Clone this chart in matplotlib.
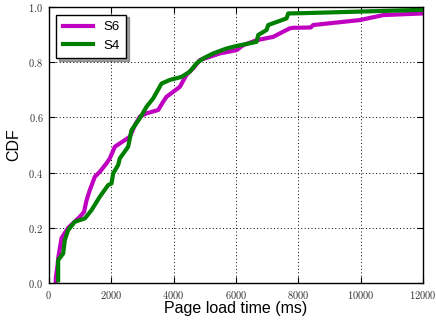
import numpy as np
import matplotlib
matplotlib.use("Agg")
import matplotlib.pyplot as plt
from matplotlib.ticker import FuncFormatter

# traced CDF points (page load time in ms, cumulative fraction)
s6_ms = [220, 225, 280, 300, 407, 620, 995, 1130, 1210, 1315, 1475, 1636, 1850,
         1957, 2118, 2439, 2599, 2760, 2920, 3134, 3508, 3668, 3775, 3989, 4203,
         4418, 4630, 4845, 5166, 5487, 6022, 6236, 6664, 7197, 7518, 7733, 7839,
         8400, 8480, 9979, 10726, 12000]
s6_cdf = [0.0, 0.02, 0.065, 0.09, 0.163, 0.2, 0.24, 0.258, 0.30, 0.337, 0.385,
          0.403, 0.434, 0.452, 0.494, 0.518, 0.530, 0.572, 0.603, 0.615, 0.627,
          0.657, 0.675, 0.693, 0.711, 0.755, 0.778, 0.808, 0.820, 0.832, 0.844,
          0.862, 0.880, 0.892, 0.911, 0.923, 0.925, 0.926, 0.935, 0.953, 0.971,
          0.977]

s4_ms = [299, 299, 460, 513, 620, 834, 1155, 1369, 1636, 1903, 2011, 2064, 2224,
         2278, 2545, 2652, 2920, 3134, 3347, 3615, 3882, 4257, 4524, 4737, 4951,
         5272, 5701, 6022, 6664, 6717, 6985, 7038, 7625, 7678, 8160, 12000]
s4_cdf = [0.01, 0.083, 0.107, 0.156, 0.192, 0.222, 0.234, 0.264, 0.313, 0.355,
          0.361, 0.397, 0.428, 0.452, 0.494, 0.554, 0.597, 0.639, 0.669, 0.723,
          0.736, 0.747, 0.766, 0.796, 0.814, 0.832, 0.850, 0.859, 0.874, 0.899,
          0.917, 0.935, 0.959, 0.977, 0.978, 0.99]

xticks = [0, 2000, 4000, 6000, 8000, 10000, 12000]
yticks = [0.0, 0.2, 0.4, 0.6, 0.8, 1.0]

plt.rcParams["mathtext.fontset"] = "cm"
plt.rcParams["font.family"] = ["Liberation Sans", "DejaVu Sans"]

fig = plt.figure(figsize=(4.36, 3.22), dpi=100)
ax = fig.add_axes([0.112, 0.121, 0.858, 0.857])

ax.plot(s6_ms, s6_cdf, color="#c000c0", lw=3.0, label="S6")
ax.plot(s4_ms, s4_cdf, color="#008000", lw=3.0, label="S4")

ax.set_xlim(0, 12000)
ax.set_ylim(0, 1.0)
ax.set_xticks(xticks)
ax.set_yticks(yticks)
ax.xaxis.set_major_formatter(FuncFormatter(lambda v, p: r"$%d$" % v))
ax.yaxis.set_major_formatter(FuncFormatter(lambda v, p: r"$%.1f$" % v))
ax.tick_params(direction="in", top=True, right=True, labelsize=7.5, length=4,
               pad=4, labelcolor="#333333")
ax.grid(True, color="black", linestyle=(0, (1, 2.5)), linewidth=0.7)
for sp in ax.spines.values():
    sp.set_linewidth(1.0)

ax.set_xlabel("Page load time (ms)", fontsize=11.5, labelpad=0)
ax.set_ylabel("CDF", fontsize=11.5, labelpad=5)

leg = ax.legend(loc="upper left", fontsize=9.5, shadow=True, fancybox=False,
                handlelength=2.3, borderpad=0.5, labelspacing=0.45,
                borderaxespad=0, bbox_to_anchor=(0.019, 0.973))
leg.get_frame().set_edgecolor("black")
leg.get_frame().set_linewidth(1.0)

fig.savefig("out.png", dpi=100)
